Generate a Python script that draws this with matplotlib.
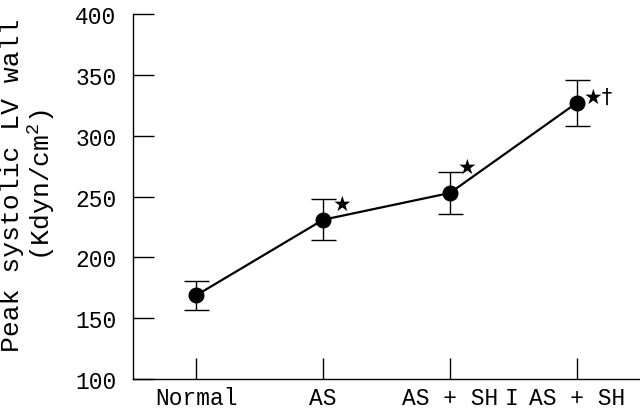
import matplotlib.pyplot as plt
import matplotlib.transforms as mtransforms

plt.rcParams.update({'font.family': ['Liberation Mono', 'DejaVu Sans Mono', 'DejaVu Sans'],
                     'mathtext.fontset': 'custom', 'mathtext.rm': 'Liberation Mono'})

# data
groups = ['Normal', 'AS', 'AS + SH', 'AS + SH']
means = [169, 231, 253, 327]
errs = [12, 17, 17, 19]
marks = ['', '\u2605', '\u2605', '\u2605\u2020']
mark_offsets = [(0, 0), (7, 11.5), (5.5, 18.5), (5, 4.5)]

fig = plt.figure(figsize=(6.4, 4.1), dpi=100)
ax = fig.add_axes([0.208, 0.073, 0.792, 0.890])

x = list(range(len(groups)))
ax.errorbar(x, means, yerr=errs, fmt='none', ecolor='black', elinewidth=1,
            capsize=9, capthick=1, zorder=2)
ax.plot(x, means, color='black', lw=1.6, marker='o', ms=10.5, zorder=3)

for xi, yi, m, off in zip(x, means, marks, mark_offsets):
    if m:
        ax.annotate(m, (xi, yi), xytext=off, textcoords='offset points',
                    fontsize=15, family=['DejaVu Sans'], va='center', ha='left')

ax.set_xlim(-0.5, 3.5)
ax.set_ylim(100, 400)
ax.set_yticks(range(100, 401, 50))
ax.set_xticks(x)
ax.set_xticklabels(groups, fontsize=16.5)
ax.tick_params(direction='in', length=15, width=1, color='black')
ax.tick_params(axis='y', labelsize=16.5, pad=12)
ax.tick_params(axis='x', pad=5)
for s in ['top', 'right']:
    ax.spines[s].set_visible(False)
for s in ['left', 'bottom']:
    ax.spines[s].set_linewidth(1)

# stray "I" before the last label
trans = mtransforms.blended_transform_factory(ax.transData, ax.transAxes)
ax.text(2.49, -0.02, 'I', transform=trans, fontsize=16.5, ha='center', va='top')

ax.set_ylabel('Peak systolic LV wall\n(Kdyn/cm$^2$)', fontsize=19, linespacing=1.05)
ax.yaxis.set_label_coords(-0.15, 0.534)

fig.savefig('out.png', dpi=100)
